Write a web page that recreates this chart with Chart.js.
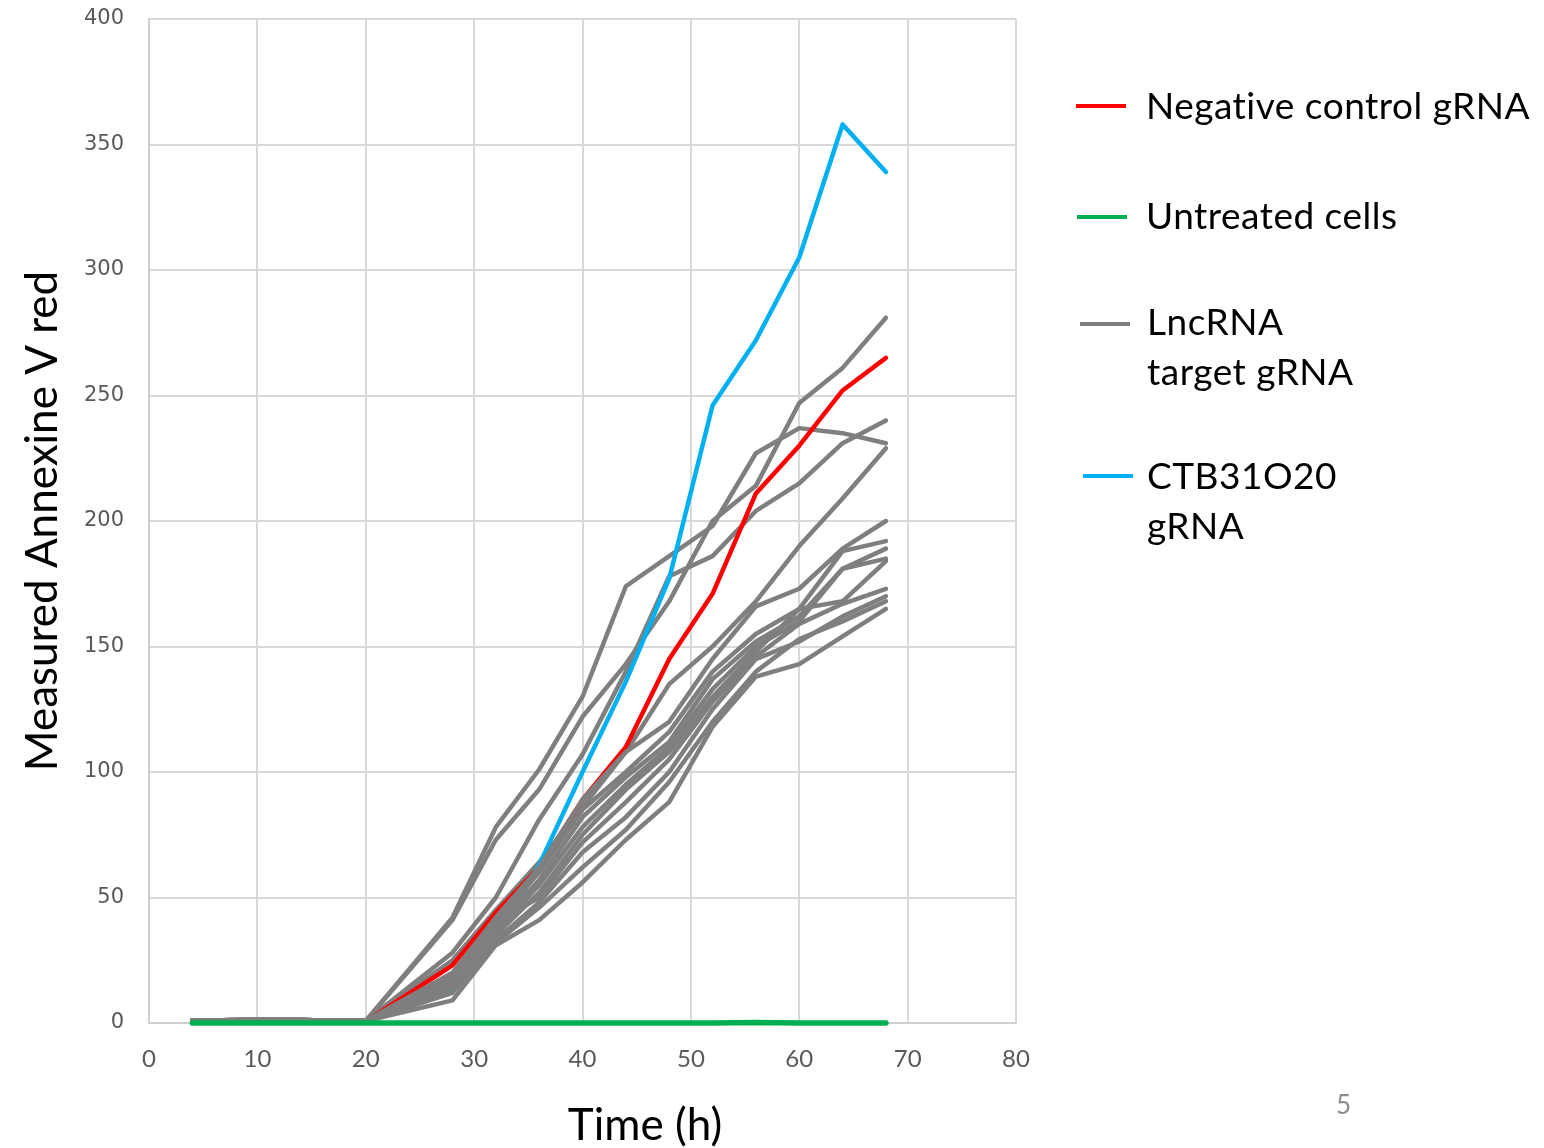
<!DOCTYPE html>
<html>
<head>
<meta charset="utf-8">
<script src="https://cdn.jsdelivr.net/npm/chart.js@4.4.1/dist/chart.umd.min.js"></script>
<style>
    body { margin: 0; background: #ffffff; }
    #wrap { position: relative; width: 1544px; height: 1148px; font-family: Lato, 'Open Sans', sans-serif; }
    #annexin-chart { position: absolute; left: 0; top: 0; }
    .legend-swatch { position: absolute; width: 50px; height: 4px; }
    .legend-text { position: absolute; font-size: 37px; letter-spacing: 0.5px; line-height: 50px; color: #000000; white-space: nowrap; }
    #x-title { position: absolute; left: 545px; top: 1097px; width: 200px; text-align: center; font-size: 44px; line-height: 52px; color: #000000; }
    #slide-number { position: absolute; left: 1336px; top: 1088px; font-size: 26px; color: #8c8c8c; }
</style>
</head>
<body>
<div id="wrap">
    <canvas id="annexin-chart" width="1544" height="1148"></canvas>

    <div class="legend-swatch" style="left:1076px; top:104px; background:#ff0000;"></div>
    <div class="legend-text" style="left:1146px; top:80px;">Negative control gRNA</div>

    <div class="legend-swatch" style="left:1077px; top:215px; background:#00b050;"></div>
    <div class="legend-text" style="left:1146px; top:190px;">Untreated cells</div>

    <div class="legend-swatch" style="left:1080px; top:322px; background:#7f7f7f;"></div>
    <div class="legend-text" style="left:1147px; top:296px;">LncRNA<br>target gRNA</div>

    <div class="legend-swatch" style="left:1083px; top:474px; background:#00b0f0;"></div>
    <div class="legend-text" style="left:1147px; top:450px;">CTB31O20<br>gRNA</div>

    <div id="x-title">Time (h)</div>
    <div id="slide-number">5</div>
</div>

<script>
// time points (h)
const timeHours = [4, 12, 20, 28, 32, 36, 40, 44, 48, 52, 56, 60, 64, 68];

const negativeControl = [0.6, 0.9, 0.6, 23, 44, 62, 89, 110, 145, 171, 211, 230, 252, 265];
const untreatedCells = [0, 0, 0, 0, 0, 0, 0, 0, 0, 0, 0.2, 0, 0, 0];
const ctb31o20 = [0.5, 0.8, 0.5, 13, 33, 63, 100, 136, 177, 246, 272, 305, 358, 339];

// the upper lncRNA target curves (drawn under red / blue)
const lncUpper = [
    [1.0, 1.3, 0.8, 42, 78, 101, 130, 174, 186, 198, 227, 237, 235, 231],
    [1.0, 1.3, 0.8, 41, 73, 93, 122, 143, 168, 200, 214, 247, 261, 281],
    [1.0, 1.3, 0.8, 28, 50, 81, 107, 140, 178, 186, 204, 215, 231, 240],
    [1.0, 1.3, 0.8, 25, 45, 64, 86, 108, 135, 150, 168, 190, 209, 229],
];

// the lower bundle of lncRNA target curves (drawn over red / blue)
const lncBundle = [
    [1.0, 1.3, 0.8, 20, 42, 62, 89, 108, 120, 145, 166, 173, 189, 200],
    [1.0, 1.3, 0.8, 18, 40, 60, 85, 100, 116, 140, 155, 165, 188, 192],
    [1.0, 1.3, 0.8, 17, 38, 57, 82, 98, 112, 137, 152, 162, 181, 189],
    [1.0, 1.3, 0.8, 16, 36, 55, 78, 95, 110, 133, 150, 160, 181, 185],
    [1.0, 1.3, 0.8, 15, 35, 52, 75, 93, 108, 130, 148, 165, 168, 184],
    [1.0, 1.3, 0.8, 19, 40, 50, 72, 88, 105, 128, 146, 159, 167, 173],
    [1.0, 1.3, 0.8, 14, 33, 48, 68, 82, 100, 125, 145, 152, 162, 170],
    [1.0, 1.3, 0.8, 12, 32, 46, 62, 77, 96, 120, 140, 153, 160, 168],
    [1.0, 1.3, 0.8, 9, 31, 41, 56, 73, 88, 118, 138, 143, 154, 165],
];

const xTicks = [0, 10, 20, 30, 40, 50, 60, 70, 80];
const yTicks = [0, 50, 100, 150, 200, 250, 300, 350, 400];

const toPoints = (values) => values.map((v, i) => ({ x: timeHours[i], y: v }));

const lineDataset = (values, color, width) => ({
    data: toPoints(values),
    borderColor: color,
    backgroundColor: color,
    borderWidth: width,
    pointRadius: 0,
    tension: 0,
    fill: false,
    clip: false,
    borderCapStyle: 'round',
    borderJoinStyle: 'round'
});

// first dataset in the list ends up on top
const datasets = [
    lineDataset(untreatedCells, '#00b050', 5.5),
    ...lncBundle.map(values => lineDataset(values, '#7f7f7f', 4.5)),
    lineDataset(ctb31o20, '#00b0f0', 4.5),
    lineDataset(negativeControl, '#ff0000', 4.5),
    ...lncUpper.map(values => lineDataset(values, '#7f7f7f', 4.5)),
];

const ctx = document.getElementById('annexin-chart').getContext('2d');

new Chart(ctx, {
    type: 'line',
    data: { datasets },
    options: {
        responsive: false,
        animation: false,
        layout: {
            padding: { left: 0, top: 19, right: 528, bottom: 0 }
        },
        plugins: {
            legend: { display: false },
            tooltip: { enabled: false }
        },
        scales: {
            x: {
                type: 'linear',
                min: 0,
                max: 80,
                afterBuildTicks: (scale) => {
                    scale.ticks = xTicks.map(v => ({ value: v }));
                },
                afterFit: (scale) => {
                    scale.height = 125;
                },
                grid: {
                    color: '#d9d9d9',
                    lineWidth: 2,
                    drawTicks: false
                },
                border: { color: '#d0d0d0', width: 2 },
                ticks: {
                    padding: 22,
                    color: '#595959',
                    font: { family: 'Lato', size: 24 }
                }
            },
            y: {
                min: 0,
                max: 400,
                afterBuildTicks: (scale) => {
                    scale.ticks = yTicks.map(v => ({ value: v }));
                },
                afterFit: (scale) => {
                    scale.width = 149;
                    // tick padding would otherwise push the plot top down
                    scale.paddingTop = 0;
                    scale.paddingBottom = 0;
                },
                grid: {
                    color: '#d9d9d9',
                    lineWidth: 2,
                    drawTicks: false
                },
                border: { color: '#d0d0d0', width: 2 },
                ticks: {
                    padding: 25,
                    color: '#595959',
                    font: { family: 'DejaVu Sans', size: 21 }
                },
                title: {
                    display: true,
                    text: 'Measured Annexine V red',
                    color: '#000000',
                    padding: { top: 16, bottom: 0 },
                    font: { family: 'Lato', size: 44 }
                }
            }
        }
    }
});
</script>
</body>
</html>
